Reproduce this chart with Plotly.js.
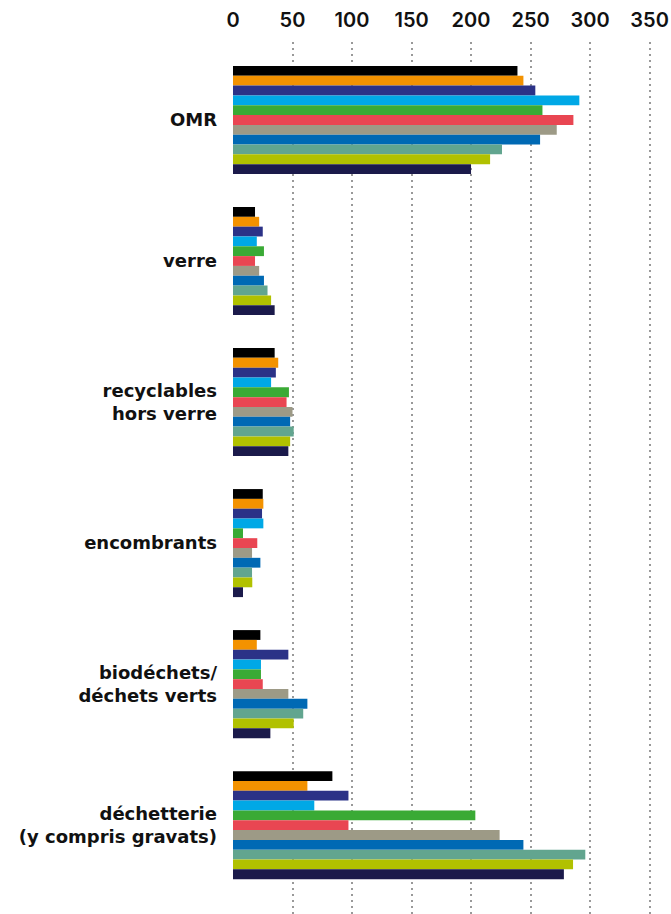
<!DOCTYPE html>
<html>
<head>
<meta charset="utf-8">
<script src="https://cdn.plot.ly/plotly-3.0.1.min.js"></script>
<style>html,body{margin:0;padding:0;background:#fff;}#chart{width:671px;height:914px;}</style>
</head>
<body>
<div id="chart"></div>
<script>
const categories = ["OMR", "verre", "recyclables<br>hors verre", "encombrants", "biodéchets/<br>déchets verts", "déchetterie<br>(y compris gravats)"];
const s1  = [239, 18.5, 35, 25, 23, 83.5];
const s2  = [244, 22, 38, 25.5, 20, 62.5];
const s3  = [254, 25, 36, 24.4, 46.5, 97];
const s4  = [291, 20, 32, 25.5, 23.5, 68.3];
const s5  = [260, 26, 47, 8.4, 23.5, 203.6];
const s6  = [286, 18.5, 45, 20.4, 25, 97];
const s7  = [272, 22, 50, 16, 46.5, 224];
const s8  = [258, 26, 48, 23, 62.5, 244];
const s9  = [226, 29, 51, 16, 59, 296];
const s10 = [216, 32, 48, 16.2, 51, 285.7];
const s11 = [200, 35, 46.5, 8.4, 31.4, 278];
const seriesValues = [s1, s2, s3, s4, s5, s6, s7, s8, s9, s10, s11];
const colors = ["#000000", "#f39200", "#2b3287", "#00a8e6", "#3aaa35", "#e94652", "#9d9a86", "#0069b4", "#62a58f", "#b1c100", "#1b1a4b"];
const tickVals = [0, 50, 100, 150, 200, 250, 300, 350];

const traces = seriesValues.map((vals, i) => ({
  type: "bar",
  orientation: "h",
  y: categories,
  x: vals,
  marker: {color: colors[i], line: {width: 0}},
  hoverinfo: "x"
}));

const layout = {
  width: 671, height: 914,
  margin: {l: 233, r: 0, t: 42, b: 0, pad: 0},
  paper_bgcolor: "#fff", plot_bgcolor: "#fff",
  barmode: "group", bargap: 0.234, bargroupgap: 0,
  showlegend: false,
  font: {family: "Inter, Roboto, sans-serif", color: "#111"},
  xaxis: {
    side: "top", range: [0, 368], tickvals: tickVals, ticktext: tickVals.map(String),
    showgrid: true, gridcolor: "#999999", gridwidth: 2, griddash: "2px,4px",
    zeroline: false, showline: false, ticks: "", ticklabelstandoff: 10,
    tickfont: {size: 20, family: "Inter, Roboto, sans-serif", color: "#111", weight: 600}
  },
  yaxis: {
    type: "category", range: [5.63, -0.553], showgrid: false, zeroline: false, showline: false,
    ticks: "", ticklabelstandoff: 15,
    tickfont: {size: 18, family: "DejaVu Sans, sans-serif", color: "#111", weight: 700}
  }
};
Plotly.newPlot("chart", traces, layout, {displayModeBar: false, staticPlot: true});
</script>
</body>
</html>
